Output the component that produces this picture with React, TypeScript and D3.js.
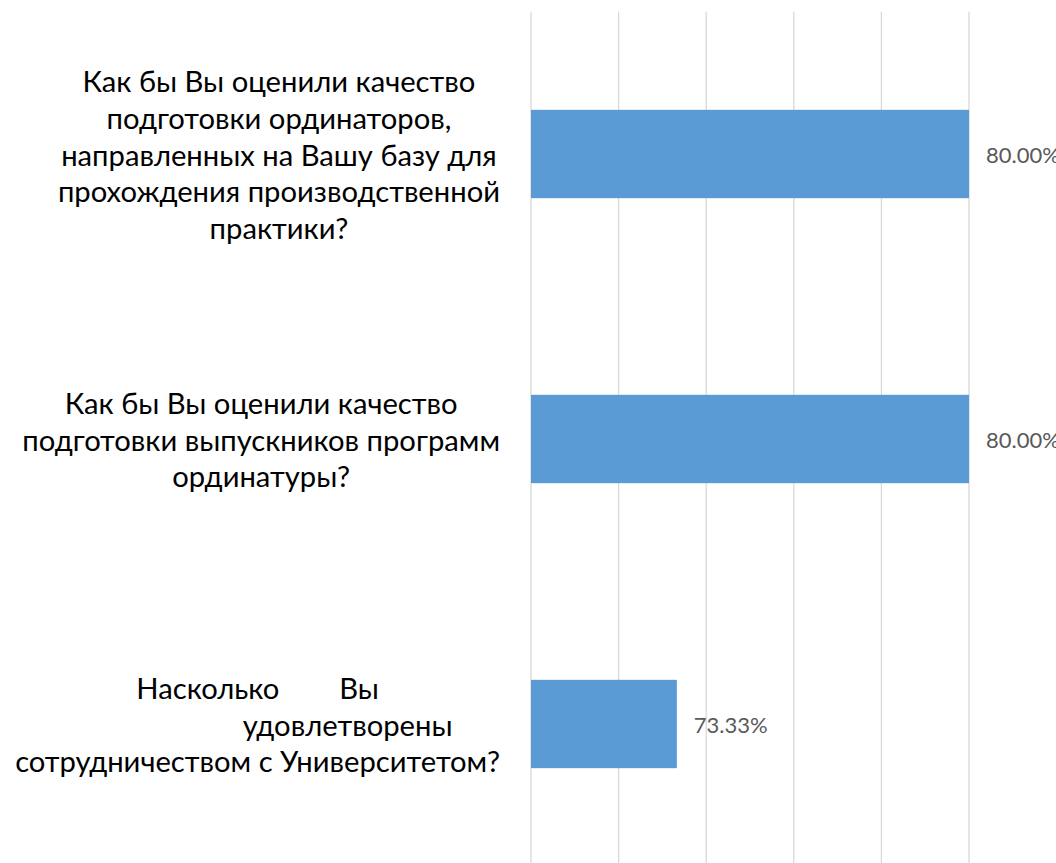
import React, { useEffect, useRef } from "react";
import * as d3 from "d3";

const categories = ["q1", "q2", "q3"];
const categoryLines: { t: string; dx: number }[][] = [
  [
    { t: "Как бы Вы оценили качество", dx: 0 },
    { t: "подготовки ординаторов,", dx: 0 },
    { t: "направленных на Вашу базу для", dx: 0 },
    { t: "прохождения производственной", dx: 0 },
    { t: "практики?", dx: 0 },
  ],
  [
    { t: "Как бы Вы оценили качество", dx: 0 },
    { t: "подготовки выпускников программ", dx: 0 },
    { t: "ординатуры?", dx: 0 },
  ],
  [
    { t: "Насколько        Вы", dx: 0 },
    { t: "удовлетворены", dx: 90 },
    { t: "сотрудничеством с Университетом?", dx: 0 },
  ],
];
const values = [80.0, 80.0, 73.33];
const xTicks = [70, 72, 74, 76, 78, 80];

const W = 1056;
const H = 863;

export default function App() {
  const ref = useRef<SVGSVGElement>(null);

  useEffect(() => {
    const svg = d3.select(ref.current);
    svg.selectAll("*").remove();

    const x = d3.scaleLinear().domain([70, 80]).range([531, 969]);
    const y = d3
      .scaleBand<string>()
      .domain(categories)
      .range([11.5, 866.5])
      .paddingInner(0.69)
      .paddingOuter(0.345);

    // gridlines
    svg
      .append("g")
      .selectAll("line")
      .data(xTicks)
      .join("line")
      .attr("x1", (d) => x(d))
      .attr("x2", (d) => x(d))
      .attr("y1", 11.5)
      .attr("y2", 866.5)
      .attr("stroke", "#D9D9D9")
      .attr("stroke-width", 1.3);

    // bars
    svg
      .append("g")
      .selectAll("rect")
      .data(values)
      .join("rect")
      .attr("x", x(70))
      .attr("y", (_, i) => y(categories[i])!)
      .attr("width", (d) => x(d) - x(70))
      .attr("height", y.bandwidth())
      .attr("fill", "#5B9BD5");

    // value labels
    svg
      .append("g")
      .selectAll("text")
      .data(values)
      .join("text")
      .attr("x", (d) => x(d) + 17)
      .attr("y", (_, i) => y(categories[i])! + y.bandwidth() / 2)
      .attr("dominant-baseline", "central")
      .attr("font-family", "Lato, 'Noto Sans', sans-serif")
      .attr("font-size", 22)
      .attr("fill", "#595959")
      .text((d) => d.toFixed(2) + "%");

    // category labels
    const lineH = 36.8;
    const rightEdge = 500;
    categoryLines.forEach((lines, i) => {
      const cy = y(categories[i])! + y.bandwidth() / 2;
      const g = svg.append("g");
      const n = lines.length;
      const texts = g
        .selectAll("text")
        .data(lines)
        .join("text")
        .attr("y", (_, j) => cy + (j - (n - 1) / 2) * lineH)
        .attr("dominant-baseline", "central")
        .attr("text-anchor", "middle")
        .attr("font-family", "Lato, 'Noto Sans', sans-serif")
        .attr("font-size", 29.2)
        .attr("fill", "#000000")
        .style("white-space", "pre")
        .text((d) => d.t);
      let maxW = 0;
      texts.each(function () {
        const w = (this as SVGTextElement).getComputedTextLength();
        if (w > maxW) maxW = w;
      });
      const cx = rightEdge - maxW / 2;
      texts.attr("x", (d) => cx + d.dx);
    });
  }, []);

  return (
    <svg
      ref={ref}
      width={W}
      height={H}
      style={{ position: "absolute", left: 0, top: 0, display: "block", background: "#fff" }}
    />
  );
}
